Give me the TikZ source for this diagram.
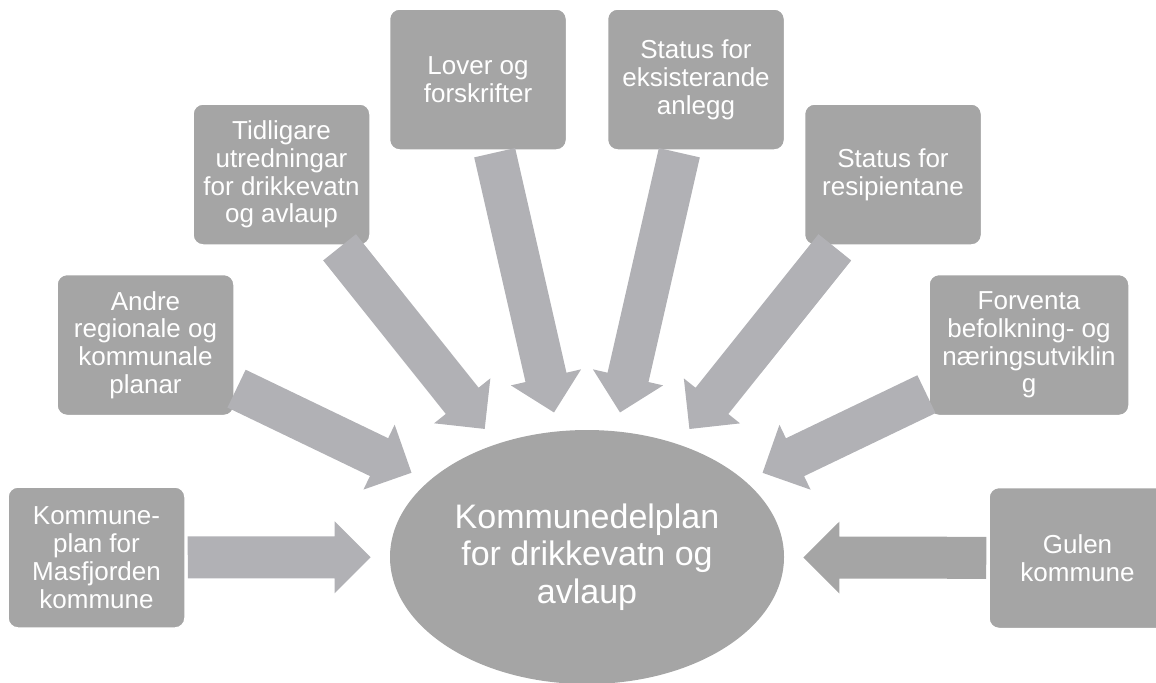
\documentclass[tikz,border=0pt]{standalone}
\usepackage{fontspec}
\setmainfont{Liberation Sans}
\usetikzlibrary{calc,shapes.geometric}

\definecolor{boxgray}{RGB}{165,165,165}
\definecolor{arrowgray}{RGB}{177,177,181}

% block arrow from node #2 towards node #3
\newcommand\blockarrow[3][arrowgray]{%
  \path (#2) -- (#3) coordinate[pos=0] (s) coordinate[pos=1] (e);
  \coordinate (a) at ($(s)!1pt!(e)$);
  \coordinate (b) at ($(e)!9.5pt!(s)$);
  \coordinate (h) at ($(b)!18pt!(a)$);
  \fill[#1] ($(a)!10.5pt!90:(b)$) -- ($(h)!10.5pt!90:(b)$) -- ($(h)!18pt!90:(b)$)
    -- (b) -- ($(h)!18pt!-90:(b)$) -- ($(h)!10.5pt!-90:(b)$) -- ($(a)!10.5pt!-90:(b)$) -- cycle;
}

\begin{document}
\begin{tikzpicture}[x=0.5pt, y=-0.5pt,
  box/.style={draw=white, line width=0.75pt, fill=boxgray, rounded corners=5pt,
    text=white, align=center, inner sep=2pt, minimum width=88.5pt, minimum height=70.5pt,
    font=\fontsize{13}{13.9}\selectfont},
  plan/.style={ellipse, fill=boxgray, text=white, align=center, inner sep=0pt,
    minimum width=197pt, minimum height=127pt, font=\fontsize{17}{18.8}\selectfont}]

\clip (0,0) rectangle (1156,682);

\node[plan] (plan) at (587,557) {Kommunedelplan\\for drikkevatn og\\avlaup};

\node[box] (kplan) at (96.5,557.5) {Kommune-\\plan for\\Masfjorden\\kommune};
\node[box] (andre) at (145.5,345) {Andre\\regionale og\\kommunale\\planar};
\node[box] (tidl) at (281.5,174.5) {Tidligare\\utredningar\\for drikkevatn\\og avlaup};
\node[box] (lover) at (478,79.5) {Lover og\\forskrifter};
\node[box] (anlegg) at (696,79.5) {Status for\\eksisterande\\anlegg};
\node[box] (resip) at (893,174.5) {Status for\\resipientane};
\node[box, minimum width=100pt] (forv) at (1029,345) {Forventa\\befolkning- og\\næringsutviklin\\g};
\node[box] (gulen) at (1077.5,558) {Gulen\\kommune};

\blockarrow{kplan}{plan}
\blockarrow{andre}{plan}
\blockarrow{tidl}{plan}
\blockarrow{lover}{plan}
\blockarrow{anlegg}{plan}
\blockarrow{resip}{plan}
\blockarrow{forv}{plan}
\blockarrow[boxgray]{gulen}{plan}

\end{tikzpicture}
\end{document}
